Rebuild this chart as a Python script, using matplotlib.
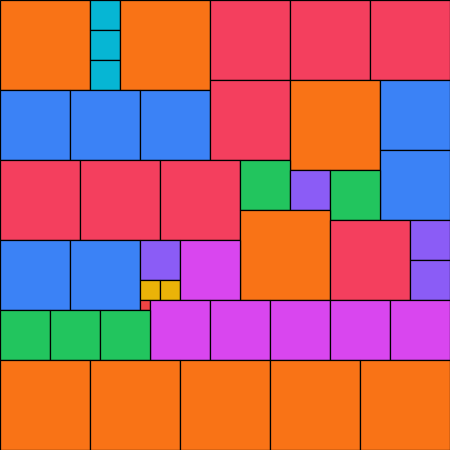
#!/usr/bin/env python3
"""Square packing chart: squares coloured by their side length."""

import matplotlib
matplotlib.use("Agg")
import matplotlib.pyplot as plt
import matplotlib.patches as mpatches

# Side length of each square and its top-left corner
sizes = [90, 30, 30, 30, 90, 80, 80, 80,
         70, 70, 70, 80, 90, 70, 70,
         80, 80, 80, 50, 40, 50,
         90, 80, 40, 40,
         70, 70, 40, 20, 20, 10, 60,
         60, 60, 60, 60, 60,
         50, 50, 50,
         90, 90, 90, 90, 90]
xs = [0, 90, 90, 90, 120, 210, 290, 370,
      0, 70, 140, 210, 290, 380, 380,
      0, 80, 160, 240, 290, 330,
      240, 330, 410, 410,
      0, 70, 140, 140, 160, 140, 180,
      150, 210, 270, 330, 390,
      0, 50, 100,
      0, 90, 180, 270, 360]
ys = [0, 0, 30, 60, 0, 0, 0, 0,
      90, 90, 90, 80, 80, 80, 150,
      160, 160, 160, 160, 170, 170,
      210, 220, 220, 260,
      240, 240, 240, 280, 280, 300, 240,
      300, 300, 300, 300, 300,
      310, 310, 310,
      360, 360, 360, 360, 360]

# Fill colour per side length
size_colors = {
    90: "#f97316",
    80: "#f43f5e",
    70: "#3b82f6",
    60: "#d946ef",
    50: "#22c55e",
    40: "#8b5cf6",
    30: "#06b6d4",
    20: "#eab308",
    10: "#ef4444",
}

fig = plt.figure(figsize=(4.5, 4.5), dpi=100)
ax = fig.add_axes([0, 0, 1, 1])
ax.set_xlim(0, 450)
ax.set_ylim(450, 0)
ax.axis("off")

for s, x, y in zip(sizes, xs, ys):
    ax.add_patch(mpatches.Rectangle((x, y), s, s, facecolor=size_colors[s],
                                    edgecolor="black", linewidth=0.9))

fig.savefig("out.png", dpi=100, facecolor="white")
plt.close(fig)
